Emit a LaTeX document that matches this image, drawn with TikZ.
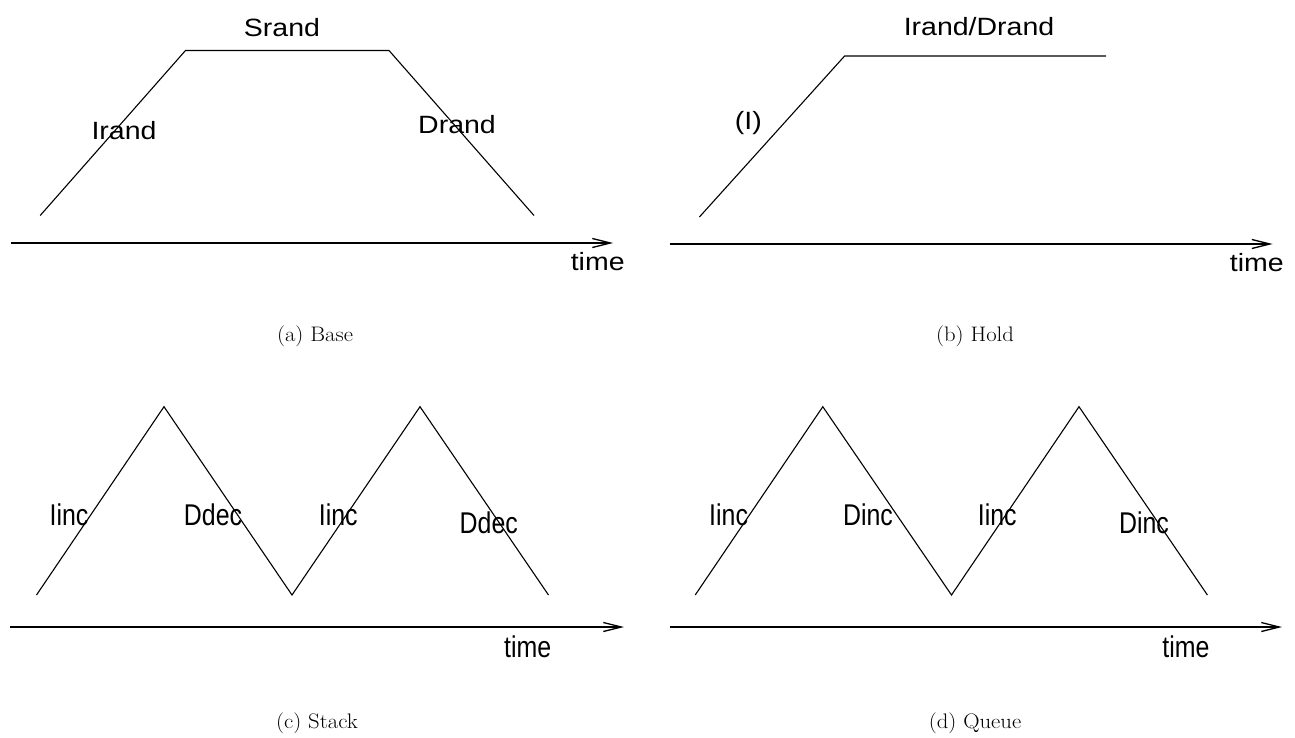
\documentclass[tikz,border=0pt]{standalone}
\usepackage{fontspec}
\usepackage{graphicx}
\setsansfont{Liberation Sans}
\usetikzlibrary{arrows.meta}
\newcommand{\mywide}[1]{\scalebox{1.14}[1]{#1}}
\newcommand{\mynarrow}[1]{\scalebox{0.83}[1]{#1}}
\newcommand{\mycapw}[1]{\scalebox{1.08}[1]{#1}}
\tikzset{
  graphline/.style={line width=1.1pt, line join=miter},
  timeaxis/.style={line width=1.6pt, -{Straight Barb[length=18pt,width=9pt,line width=1.3pt]}},
  toplab/.style={font=\sffamily\fontsize{25}{25}\selectfont, anchor=base, inner sep=0pt},
  botlab/.style={font=\sffamily\fontsize{30}{30}\selectfont, anchor=base, inner sep=0pt},
  caplab/.style={font=\rmfamily\fontsize{21}{21}\selectfont, anchor=base, inner sep=0pt}
}
\begin{document}
\begin{tikzpicture}[x=1pt,y=-1pt]
\useasboundingbox (0,0) rectangle (1295,738);

% ---------- (a) Base ----------
\coordinate (a1) at (40.2,215.5);
\coordinate (a2) at (185.5,50.5);
\coordinate (a3) at (389,50.5);
\coordinate (a4) at (534,215.5);
\draw[graphline] (a1) -- (a2) -- (a3) -- (a4);
\coordinate (ax0) at (11,243);
\coordinate (ax1) at (613,243);
\draw[timeaxis] (ax0) -- (ax1);
\node[toplab] (srand) at (282,36.7) {\mywide{Srand}};
\node[toplab] (irand) at (124,140) {\mywide{Irand}};
\node[toplab] (drand) at (457,134) {\mywide{Drand}};
\node[toplab] (atime) at (597.7,270.7) {\mywide{time}};
\node[caplab] (capa) at (315,341.5) {\mycapw{(a) Base}};

% ---------- (b) Hold ----------
\coordinate (b1) at (699.4,217);
\coordinate (b2) at (844.6,56);
\coordinate (b3) at (1106,56);
\draw[graphline] (b1) -- (b2) -- (b3);
\coordinate (bx0) at (669.7,244);
\coordinate (bx1) at (1272.5,244);
\draw[timeaxis] (bx0) -- (bx1);
\node[toplab] (irdr) at (979,36) {\mywide{Irand/Drand}};
\node[toplab] (ilab) at (748.3,129.7) {\mywide{(I)}};
\node[toplab] (btime) at (1256.8,271.7) {\mywide{time}};
\node[caplab] (capb) at (975,341.5) {\mycapw{(b) Hold}};

% ---------- (c) Stack ----------
\coordinate (c1) at (36.5,595);
\coordinate (c2) at (164,406.7);
\coordinate (c3) at (292,595);
\coordinate (c4) at (420,406.7);
\coordinate (c5) at (548.5,595);
\draw[graphline] (c1) -- (c2) -- (c3) -- (c4) -- (c5);
\coordinate (cx0) at (10.4,627);
\coordinate (cx1) at (624,627);
\draw[timeaxis] (cx0) -- (cx1);
\node[botlab] (cinc1) at (69,525) {\mynarrow{Iinc}};
\node[botlab] (cdec1) at (213,525.3) {\mynarrow{Ddec}};
\node[botlab] (cinc2) at (338.3,525) {\mynarrow{Iinc}};
\node[botlab] (cdec2) at (488.8,533.3) {\mynarrow{Ddec}};
\node[botlab] (ctime) at (527.6,657) {\mynarrow{time}};
\node[caplab] (capc) at (317,728.5) {\mycapw{(c) Stack}};

% ---------- (d) Queue ----------
\coordinate (d1) at (695.2,595);
\coordinate (d2) at (822.8,406.7);
\coordinate (d3) at (951.5,595);
\coordinate (d4) at (1079,406.7);
\coordinate (d5) at (1207.4,595);
\draw[graphline] (d1) -- (d2) -- (d3) -- (d4) -- (d5);
\coordinate (dx0) at (669.7,627);
\coordinate (dx1) at (1282,627);
\draw[timeaxis] (dx0) -- (dx1);
\node[botlab] (dinc1) at (728.6,525) {\mynarrow{Iinc}};
\node[botlab] (ddinc1) at (868,525) {\mynarrow{Dinc}};
\node[botlab] (dinc2) at (997.2,525) {\mynarrow{Iinc}};
\node[botlab] (ddinc2) at (1144,533.3) {\mynarrow{Dinc}};
\node[botlab] (dtime) at (1186,657) {\mynarrow{time}};
\node[caplab] (capd) at (975,728.5) {\mycapw{(d) Queue}};
\end{tikzpicture}
\end{document}
